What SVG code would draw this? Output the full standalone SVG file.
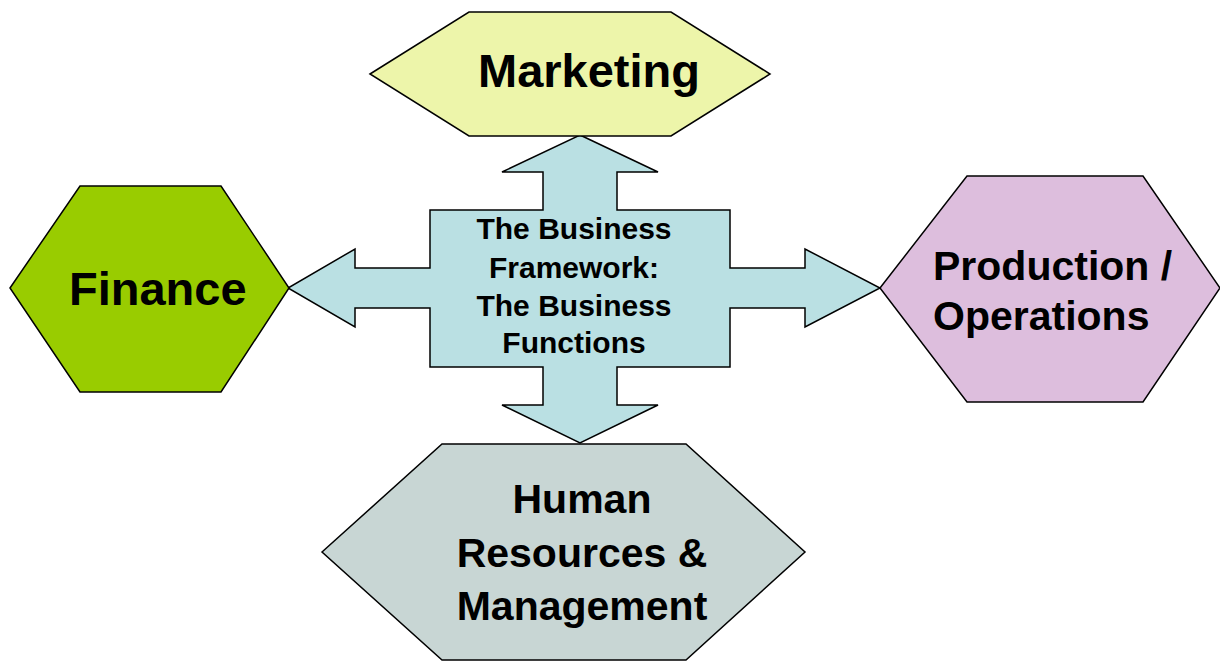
<svg xmlns="http://www.w3.org/2000/svg" width="1220" height="661" viewBox="0 0 1220 661">
<style>
  .shape { stroke: #000; stroke-width: 1.5; stroke-linejoin: miter; }
  .lbl { font-family: "Liberation Sans", Arial, sans-serif; font-weight: bold; fill: #000; }
  .big { font-size: 47px; }
  .mid { font-size: 41px; }
  .ctr { font-size: 30px; text-anchor: middle; }
</style>
<rect width="1220" height="661" fill="#fff"/>
<g id="connectors">
  <polygon class="shape" fill="#BAE0E3" points="580,135 658,172 617,172 617,210 730,210 730,268 805,268 805,249 880,288 805,327 805,308 730,308 730,367 617,367 617,405 658,405 580,443 502,405 543,405 543,367 430,367 430,308 355,308 355,327 288,288 355,249 355,268 430,268 430,210 543,210 543,172 502,172"/>
</g>
<g id="framework">
  <text class="lbl ctr" x="574" y="239">The Business</text>
  <text class="lbl ctr" x="574" y="278">Framework:</text>
  <text class="lbl ctr" x="574" y="316">The Business</text>
  <text class="lbl ctr" x="574" y="353">Functions</text>
</g>
<g id="marketing">
  <polygon class="shape" fill="#EDF5AA" points="370,74 469,12 671,12 770,74 671,136 469,136"/>
  <text class="lbl big" x="478" y="87">Marketing</text>
</g>
<g id="finance">
  <polygon class="shape" fill="#99CC00" points="10,288 80,186 221,186 289,288 221,392 80,392"/>
  <text class="lbl big" x="69" y="305">Finance</text>
</g>
<g id="production">
  <polygon class="shape" fill="#DDBEDD" points="880,288 967,176 1143,176 1220,288 1143,402 967,402"/>
  <text class="lbl mid" x="933" y="280">Production /</text>
  <text class="lbl mid" x="933" y="330">Operations</text>
</g>
<g id="hr">
  <polygon class="shape" fill="#C8D6D4" points="322,552 442,444 686,444 805,552 686,660 442,660"/>
  <text class="lbl mid" x="582" y="513" text-anchor="middle">Human</text>
  <text class="lbl mid" x="582" y="567" text-anchor="middle">Resources &amp;</text>
  <text class="lbl mid" x="582" y="620" text-anchor="middle">Management</text>
</g>
</svg>
